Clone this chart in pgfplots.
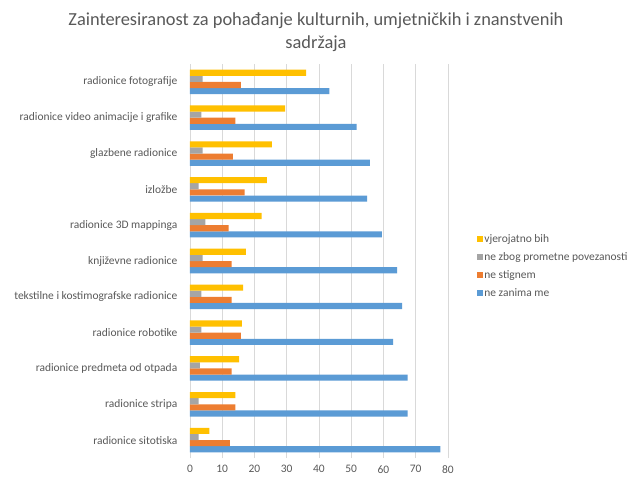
\documentclass[border=0pt]{standalone}
\usepackage{pgfplots}
\pgfplotsset{compat=1.18}
\usepackage{fontspec}
\setmainfont{Carlito}
\definecolor{cblue}{HTML}{5B9BD5}
\definecolor{corange}{HTML}{ED7D31}
\definecolor{cgray}{HTML}{A5A5A5}
\definecolor{cyellow}{HTML}{FFC000}
\definecolor{ctext}{HTML}{595959}
\definecolor{cgrid}{HTML}{D9D9D9}
\begin{document}
\begin{tikzpicture}
\useasboundingbox (0,0) rectangle (474.75pt,360pt);
\fill[white] (0,0) rectangle (474.75pt,360pt);
\node[text=ctext, font=\fontsize{13.8}{17}\selectfont, align=center] at (237pt,336pt)
  {Zainteresiranost za pohađanje kulturnih, umjetničkih i znanstvenih\\sadržaja};
\begin{axis}[
  at={(142.5pt,16.5pt)}, anchor=south west,
  scale only axis, width=193.5pt, height=295.5pt,
  xbar, bar width=4.6pt, bar shift auto=0pt,
  xmin=0, xmax=80, ymin=-0.5, ymax=10.5,
  xtick={0,10,...,80},
  ytick={0,...,10},
  yticklabels={radionice sitotiska, radionice stripa, radionice predmeta od otpada, radionice robotike, tekstilne i kostimografske radionice, književne radionice, radionice 3D mappinga, izložbe, glazbene radionice, radionice video animacije i grafike, radionice fotografije},
  major tick length=0pt,
  xmajorgrids, grid style={cgrid, line width=0.6pt},
  axis line style={draw=none},
  axis x line*=bottom, axis y line*=left,
  separate axis lines,
  y axis line style={draw=cgrid, line width=0.6pt},
  ticklabel style={text=ctext, font=\fontsize{8.6}{10}\selectfont},
  /pgf/number format/assume math mode=true,
  xticklabel style={yshift=-2pt},
  yticklabel style={xshift=-6pt},
  reverse legend,
  legend style={at={(1.112,0.575)}, anchor=north west, draw=none, fill=none, inner sep=0pt,
    font=\fontsize{8.6}{10}\selectfont, text=ctext, row sep=2pt,
    /tikz/every odd column/.append style={column sep=0pt},
    nodes={inner xsep=1pt}},
  legend cell align=left,
  legend image code/.code={\fill[#1] (0pt,-2.2pt) rectangle (4.4pt,2.2pt);},
]
\addplot[fill=cblue, draw=none] coordinates {(77.6,0) (67.5,1) (67.5,2) (63.0,3) (65.8,4) (64.2,5) (59.5,6) (54.9,7) (55.8,8) (51.7,9) (43.2,10)};
\addplot[fill=corange, draw=none] coordinates {(12.4,0) (14.1,1) (12.9,2) (15.8,3) (12.9,4) (12.9,5) (12.0,6) (16.9,7) (13.3,8) (14.1,9) (15.8,10)};
\addplot[fill=cgray, draw=none] coordinates {(2.7,0) (2.7,1) (3.1,2) (3.5,3) (3.5,4) (3.9,5) (4.8,6) (2.7,7) (3.9,8) (3.5,9) (3.9,10)};
\addplot[fill=cyellow, draw=none] coordinates {(6.0,0) (14.1,1) (15.2,2) (16.1,3) (16.5,4) (17.3,5) (22.2,6) (23.8,7) (25.4,8) (29.5,9) (36.0,10)};
\legend{ne zanima me, ne stignem, ne zbog prometne povezanosti, vjerojatno bih}
\end{axis}
\end{tikzpicture}
\end{document}
